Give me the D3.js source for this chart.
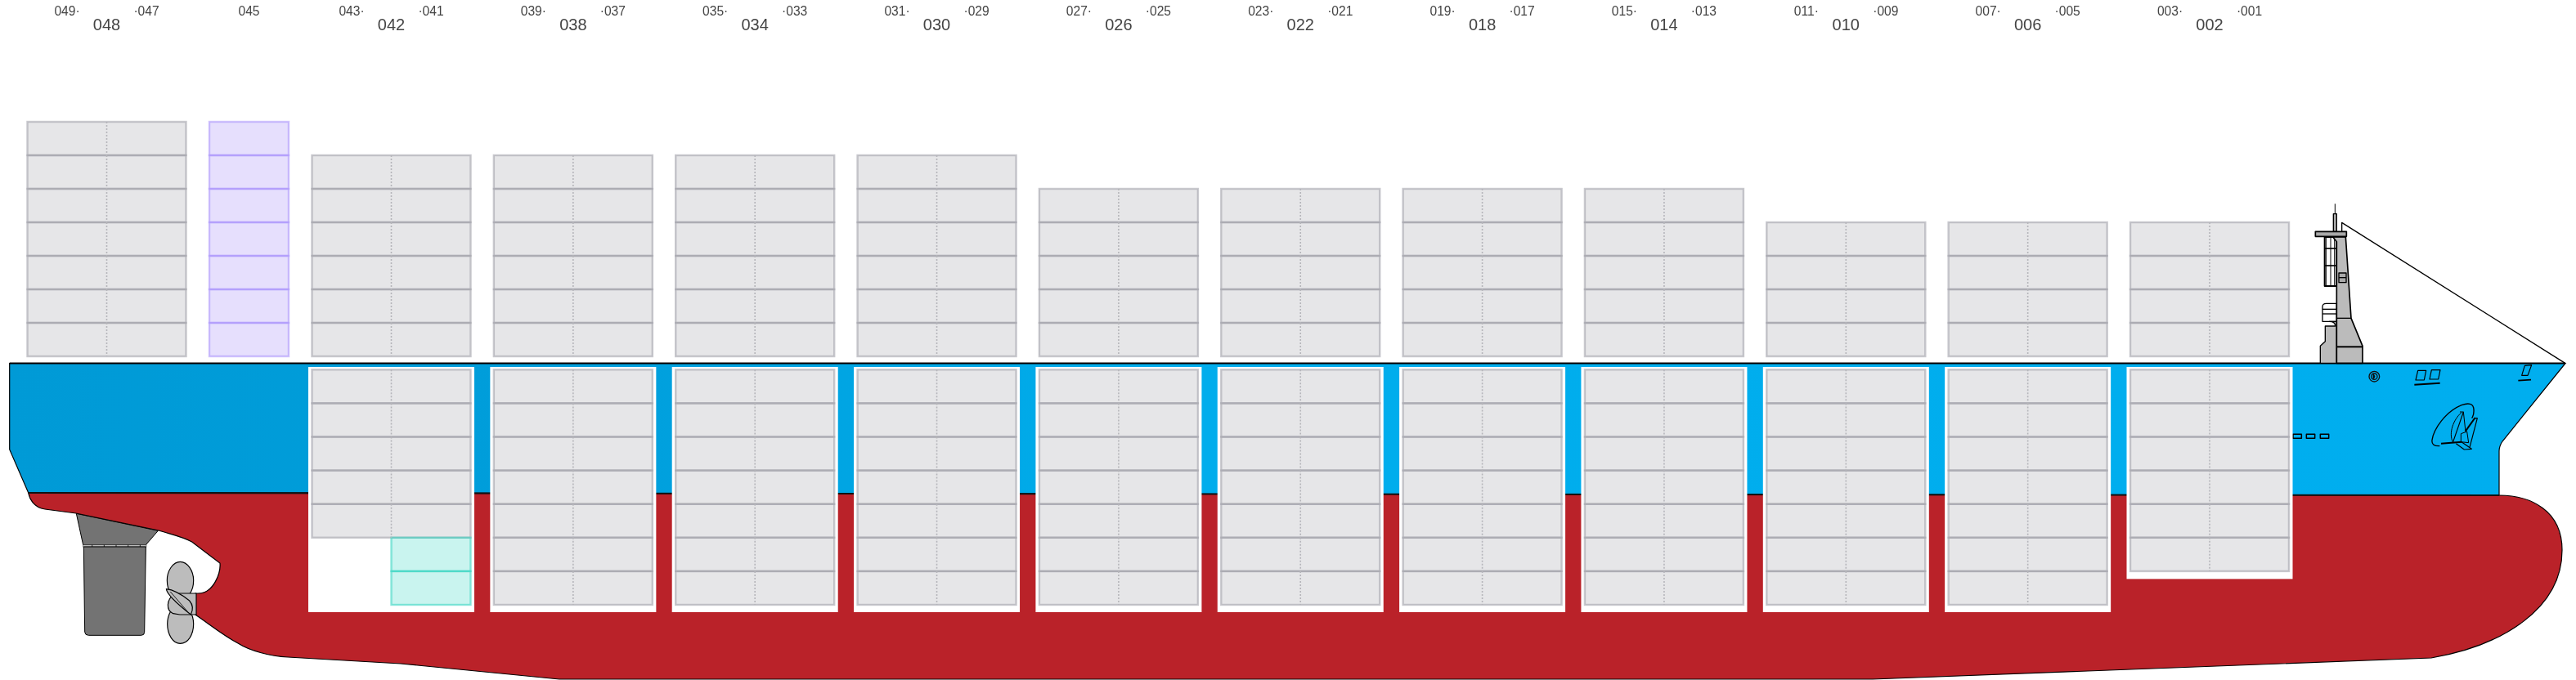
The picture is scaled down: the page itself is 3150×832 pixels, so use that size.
<!DOCTYPE html>
<html>
<head>
<meta charset="utf-8">
<script src="https://cdn.jsdelivr.net/npm/d3@7"></script>
<style>
	html, body { margin: 0; padding: 0; background: #fff; }
	svg { display: block; will-change: transform; }
	text { font-family: "Liberation Sans", Arial, sans-serif; fill: #444; text-anchor: middle; }
</style>
</head>
<body>
<div id="chart"></div>
<script>
// bays, aft to bow
const bays = [48, 45, 42, 38, 34, 30, 26, 22, 18, 14, 10, 6, 2];
const bay_labels = ["048", "045", "042", "038", "034", "030", "026", "022", "018", "014", "010", "006", "002"];
const aft_labels = ["049", "", "043", "039", "035", "031", "027", "023", "019", "015", "011", "007", "003"];
const fore_labels = ["047", "", "041", "037", "033", "029", "025", "021", "017", "013", "009", "005", "001"];

// how many tiers stacked per bay
const deck_tiers = [7, 7, 6, 6, 6, 6, 5, 5, 5, 5, 4, 4, 4];
const hold_tiers = [0, 0, 5, 7, 7, 7, 7, 7, 7, 7, 7, 7, 6];

// special slots
const purple_bays = [45];        // single 20ft stack, deck
const teal_bay = 42;             // half width stack under the hold cells
const teal_tiers = [5, 6];

const width = 3150, height = 832;

// bay number -> centre x, not quite even at the aft end
const x = d3.scaleLinear().domain([48, 45, 42, 2]).range([130.5, 304.5, 478.5, 2702]);
const half = 97;
// tier counted up from deck, down from hatch
const y_deck = d3.scaleLinear().domain([0, 7]).range([436, 149]);
const y_hold = d3.scaleLinear().domain([0, 7]).range([452.3, 740]);

const svg = d3.select("#chart").append("svg")
	.attr("width", width)
	.attr("height", height)
	.attr("viewBox", `0 0 ${width} ${height}`);

const grad = svg.append("defs").append("linearGradient")
	.attr("id", "topside")
	.attr("gradientUnits", "userSpaceOnUse")
	.attr("x1", 0).attr("x2", width).attr("y1", 0).attr("y2", 0);
grad.append("stop").attr("offset", "0").attr("stop-color", "#009ad6");
grad.append("stop").attr("offset", "0.22").attr("stop-color", "#009edb");
grad.append("stop").attr("offset", "0.45").attr("stop-color", "#00adec");
grad.append("stop").attr("offset", "1").attr("stop-color", "#00aeef");

// zoomed sketch group: coordinates are read at 3x from an origin
function sketch(ox, oy) {
	return svg.append("g").attr("transform", `translate(${ox},${oy}) scale(${1/3})`);
}
function shape(g, d, fill, sw = 3) {
	return g.append("path").attr("d", d)
		.attr("fill", fill)
		.attr("stroke", "#000")
		.attr("stroke-width", sw)
		.attr("stroke-linejoin", "round");
}

// rudder
const rudder = sketch(80, 600);
shape(rudder, "M40,85 L340,148 L295,200 L65,200 Z", "#737373");
rudder.append("rect").attr("x", 65).attr("y", 200).attr("width", 232).attr("height", 7).attr("fill", "#bcbcbc").attr("stroke", "#333").attr("stroke-width", 1.5);
d3.range(98, 290, 44).forEach(t => {
	rudder.append("line").attr("x1", t).attr("x2", t).attr("y1", 199).attr("y2", 208).attr("stroke", "#222").attr("stroke-width", 3);
});
shape(rudder, "M67,207 L295,207 L290,520 Q290,532 278,532 L85,532 Q72,532 71,520 Z", "#737373");

// hull
svg.append("path")
	.attr("d", "M11.7,444.5 L3137,444.5 L3060,540 Q3056,546 3056,552 L3056,606 L34.7,603 L11.7,550 Z")
	.attr("fill", "url(#topside)")
	.attr("stroke", "#000")
	.attr("stroke-width", 1.2);
svg.append("path")
	.attr("d", "M34.7,603 C36,610 41,621 55,623 L93,628 L194,649 C210,654 224,657 234.7,663 L269,689 C270,700 262,726 242,726 L238.8,726 L238.8,752 C258,765 272,777 291,787 C305,796 330,803 352,804 L490,812 L684,831 L2290,831 L2973,805 C3060,790 3133,745 3133,673 C3133,625 3095,606 3056,606 Z")
	.attr("fill", "#ba2229")
	.attr("stroke", "#000")
	.attr("stroke-width", 1.2);
svg.append("line").attr("x1", 11.7).attr("x2", 3137).attr("y1", 444.5).attr("y2", 444.5).attr("stroke", "#000").attr("stroke-width", 2);
svg.append("line").attr("x1", 34.7).attr("x2", 3056).attr("y1", 603).attr("y2", 606).attr("stroke", "#111").attr("stroke-width", 2);

// propeller
const prop = sketch(80, 600);
shape(prop, "M421,262 C395,262 373,295 373,330 C373,370 395,398 421,398 C450,398 470,370 470,330 C470,295 448,262 421,262 Z", "#bcbcbc", 3.5);
shape(prop, "M421,418 C395,418 374,455 374,490 C374,530 395,562 421,562 C450,562 470,530 470,490 C470,455 448,418 421,418 Z", "#bcbcbc", 3.5);
shape(prop, "M400,380 C370,400 368,440 395,452 L420,456 L480,456 L480,378 L420,378 Z", "#bcbcbc", 3.5);
shape(prop, "M370,362 C372,378 395,405 460,456 C468,440 468,420 455,405 C430,385 400,365 370,362 Z", "#bcbcbc", 3.5);
prop.append("line").attr("x1", 385).attr("y1", 372).attr("x2", 448).attr("y2", 445).attr("stroke", "#000").attr("stroke-width", 2.5);

// bridge and mast
const bridge = sketch(2700, 230);
shape(bridge, "M491,160 L491,127 L1310,643", "#fff", 4);
shape(bridge, "M466,58 L466,95", "none", 3);
shape(bridge, "M460,95 L472,95 L472,160 L460,160 Z", "#a9a9a9", 4);
shape(bridge, "M428,180 L472,180 L472,360 L428,360 Z", "#fff", 6);
[433, 450, 464].forEach(t => shape(bridge, `M${t},180 L${t},360`, "none", 3));
[222, 285].forEach(t => shape(bridge, `M428,${t} L472,${t}`, "none", 5));
shape(bridge, "M420,490 L420,436 Q420,424 434,424 L472,424 L472,490 Z", "#fff", 4);
[445, 462].forEach(t => shape(bridge, `M420,${t} L472,${t}`, "none", 4));
shape(bridge, "M412,643 L412,580 L430,563 L430,507 L467,507 Q467,490 445,490 L472,490 L472,643 Z", "#bbbbbb", 4);
shape(bridge, "M472,643 L472,197 L458,180 L505,180 L525,478 L567,580 L567,643 Z", "#bbbbbb", 5);
shape(bridge, "M472,478 L525,478", "none", 4);
shape(bridge, "M472,583 L567,583", "none", 6);
shape(bridge, "M480,312 L507,312 L507,347 L480,347 Z", "#a9a9a9", 4);
shape(bridge, "M480,329 L507,329", "none", 4);
shape(bridge, "M394,160 L508,160 L508,178 L394,178 Z", "#a9a9a9", 5);

// hull markings, foreward
bridge.append("circle").attr("cx", 610).attr("cy", 692).attr("r", 19).attr("fill", "none").attr("stroke", "#111").attr("stroke-width", 4);
bridge.append("circle").attr("cx", 610).attr("cy", 692).attr("r", 11).attr("fill", "none").attr("stroke", "#111").attr("stroke-width", 4);
shape(bridge, "M606,683 Q618,692 606,701 Z", "#111", 2);
shape(bridge, "M770,670 L800,670 L793,705 L762,705 Z", "none", 3.5);
shape(bridge, "M820,668 L852,668 L845,702 L813,702 Z", "none", 3.5);
shape(bridge, "M757,722 L851,716", "none", 6);
shape(bridge, "M1162,652 L1187,650 L1173,688 L1151,688 Z", "none", 3.5);
shape(bridge, "M1138,707 L1185,704", "none", 5);

const marks = sketch(2770, 430);
[102, 151, 202].forEach(t => shape(marks, `M${t},304 L${t + 31},304 L${t + 31},319 L${t},319 Z`, "none", 4.5));
shape(marks, "M640,347 C618,348 610,340 612,325 C618,285 660,222 720,197 C745,188 765,190 765,215 C766,230 762,238 758,245", "none", 4);
shape(marks, "M720,224 C690,250 672,300 688,332", "none", 3);
shape(marks, "M645,338 L720,332", "none", 6);
shape(marks, "M714,222 L727,222 L688,335", "none", 3.5);
shape(marks, "M727,222 L735,295", "none", 3);
shape(marks, "M735,292 L770,243", "none", 6);
shape(marks, "M768,245 L778,245 L750,352", "none", 3.5);
shape(marks, "M718,302 L740,294 L746,335 L718,332 Z", "none", 3);
shape(marks, "M700,338 L730,360 L757,358 L720,332", "none", 3.5);

// white hold openings
svg.append("g").selectAll("rect")
	.data(bays.filter((d, i) => hold_tiers[i] > 0))
	.join("rect")
	.attr("x", d => x(d) - 101.5)
	.attr("y", 449)
	.attr("width", 203)
	.attr("height", d => (hold_tiers[bays.indexOf(d)] == 6 ? y_hold(6) + 9.5 : y_hold(7) + 9) - 449)
	.attr("fill", "#fff");

// flatten to one record per stacked cell
const cells = [];
bays.forEach((bay, i) => {
	d3.range(deck_tiers[i]).forEach(t => {
		const single = purple_bays.includes(bay);
		cells.push({
			kind: single ? "purple" : "grey",
			x0: x(bay) - (single ? half / 2 : half),
			x1: x(bay) + (single ? half / 2 : half),
			y0: y_deck(t + 1),
			y1: y_deck(t)
		});
	});
	d3.range(hold_tiers[i]).forEach(t => {
		cells.push({ kind: "grey", x0: x(bay) - half, x1: x(bay) + half, y0: y_hold(t), y1: y_hold(t + 1) });
	});
	if (bay == teal_bay) {
		teal_tiers.forEach(t => {
			cells.push({ kind: "teal", x0: x(bay), x1: x(bay) + half, y0: y_hold(t), y1: y_hold(t + 1) });
		});
	}
});

const fills = { grey: "#e6e6e8", purple: "#e6dffd", teal: "#c9f4ef" };
const strokes = { grey: "#9d9ca5", purple: "#a88ffb", teal: "#2fd3c0" };

// fills first so neighbouring strokes stack and the shared edge goes darker
svg.append("g").selectAll("rect")
	.data(cells)
	.join("rect")
	.attr("x", d => d.x0)
	.attr("y", d => d.y0)
	.attr("width", d => d.x1 - d.x0)
	.attr("height", d => d.y1 - d.y0)
	.attr("fill", d => fills[d.kind]);

svg.append("g").selectAll("rect")
	.data(cells)
	.join("rect")
	.attr("x", d => d.x0)
	.attr("y", d => d.y0)
	.attr("width", d => d.x1 - d.x0)
	.attr("height", d => d.y1 - d.y0)
	.attr("fill", "none")
	.attr("stroke", d => strokes[d.kind])
	.attr("stroke-opacity", 0.55)
	.attr("stroke-width", 2.4);

// dotted centre line in each two-stack cell
svg.append("g").selectAll("line")
	.data(cells.filter(d => d.kind == "grey"))
	.join("line")
	.attr("x1", d => (d.x0 + d.x1) / 2)
	.attr("x2", d => (d.x0 + d.x1) / 2)
	.attr("y1", d => d.y0)
	.attr("y2", d => d.y1)
	.attr("stroke", "#b5b5ba")
	.attr("stroke-width", 1.6)
	.attr("stroke-dasharray", "2,2");

// labels
const labels = svg.append("g");

labels.append("g").selectAll("text")
	.data(bays)
	.join("text")
	.attr("x", d => x(d))
	.attr("y", (d, i) => bay_labels[i] == "045" ? 18.5 : 37)
	.attr("font-size", (d, i) => bay_labels[i] == "045" ? 15.6 : 20)
	.text((d, i) => bay_labels[i]);

labels.append("g").selectAll("text")
	.data(bays.filter((d, i) => aft_labels[i] != ""))
	.join("text")
	.attr("x", d => x(d) - half / 2)
	.attr("y", 18.5)
	.attr("font-size", 15.6)
	.text(d => aft_labels[bays.indexOf(d)] + "·");

labels.append("g").selectAll("text")
	.data(bays.filter((d, i) => fore_labels[i] != ""))
	.join("text")
	.attr("x", d => x(d) + half / 2)
	.attr("y", 18.5)
	.attr("font-size", 15.6)
	.text(d => "·" + fore_labels[bays.indexOf(d)]);
</script>
</body>
</html>
